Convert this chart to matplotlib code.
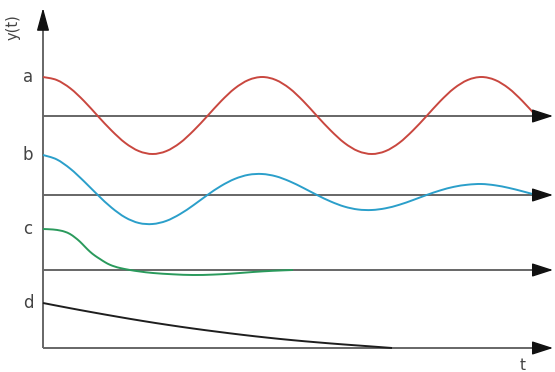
import numpy as np
import matplotlib.pyplot as plt
from matplotlib.path import Path
from matplotlib.patches import PathPatch

# time axis of the oscillating curves (px from the y axis)
t_a = [0, 13.7, 27.4, 41.1, 54.8, 68.5, 82.2, 95.9, 109.6, 123.3, 137, 150.7,
       164.4, 178.1, 191.8, 205.5, 219.2, 232.9, 246.6, 260.3, 274, 287.7,
       301.4, 315.1, 328.8, 342.5, 356.2, 369.9, 383.6, 397.3, 411, 424.7,
       438.4, 452.1, 465.8, 479.5, 493.2]
# curve a: undamped oscillation (offsets from its baseline)
y_a = [39, 36, 27.6, 14.9, 0, -14.5, -26.9, -35.1, -38, -35.1, -26.9, -14.5,
       0, 14.9, 27.6, 36, 39, 36, 27.6, 14.9, 0, -14.5, -26.9, -35.1, -38,
       -35.1, -26.9, -14.5, 0, 14.9, 27.6, 36, 39, 36, 27.6, 14.9, 0]

# curve b: damped oscillation
t_b = t_a
y_b = [40, 35.6, 26.2, 13.6, 0, -12.6, -22.4, -28, -29, -25.9, -19.1, -10,
       0, 9.1, 16.1, 20.2, 21, 18.7, 13.7, 7.1, 0, -6.5, -11.6, -14.5, -15,
       -13.3, -9.8, -5.1, 0, 4.6, 8.2, 10.3, 11, 9.7, 7.1, 3.7, 0]

# curve c: strongly damped
t_c = [0, 10, 17, 22, 27, 32, 37, 42, 47, 52, 57, 62, 67, 72, 77, 87, 97,
       110, 130, 150, 170, 190, 210, 230, 250]
y_c = [41, 40.5, 39.5, 38.2, 36, 32.5, 28.3, 23.2, 18.3, 14.3, 11, 7.8, 5.2,
       3.4, 2, 0, -1.5, -3, -4.3, -5, -4.6, -3.5, -2, -0.8, 0]

# curve d: creeping decay
t_d = [0, 25, 50, 75, 100, 125, 150, 175, 200, 225, 250, 275, 300, 325, 349]
y_d = [45, 40.2, 35.6, 31.2, 27, 23.1, 19.5, 16.2, 13.1, 10.3, 7.8, 5.6, 3.6,
       1.8, 0]

labels = ['a', 'b', 'c', 'd']
baselines = [232, 153, 78, 0]
colors = ['#c9473f', '#2b9fca', '#2a9a5c', '#1e1e1e']


def smooth_path(x, y):
    # bezier segments through the given points (catmull-rom tangents)
    p = np.column_stack([x, y]).astype(float)
    ext = np.vstack([p[0], p, p[-1]])
    verts = [p[0]]
    codes = [Path.MOVETO]
    for i in range(len(p) - 1):
        p0, p1, p2, p3 = ext[i], ext[i + 1], ext[i + 2], ext[i + 3]
        verts += [p1 + (p2 - p0) / 6, p2 - (p3 - p1) / 6, p2]
        codes += [Path.CURVE4] * 3
    return Path(verts, codes)


fig = plt.figure(figsize=(5.55, 3.72), dpi=100)
ax = fig.add_axes([0, 0, 1, 1])
ax.set_xlim(-43, 512)
ax.set_ylim(-24, 348)
ax.axis('off')

axis_col = '#666666'
tip = 510

# baselines with arrow heads
for base in baselines:
    ax.plot([0, tip - 18], [base, base], color=axis_col, lw=1.4,
            solid_capstyle='butt', zorder=1)
    ax.annotate('', xy=(tip, base), xytext=(tip - 19, base),
                arrowprops=dict(arrowstyle='-|>,head_length=1.3,head_width=0.42',
                                mutation_scale=10, color='#111111', lw=1,
                                shrinkA=0, shrinkB=0), zorder=3)

# y axis
ax.plot([0, 0], [0, 322], color=axis_col, lw=1.4, solid_capstyle='butt', zorder=1)
ax.annotate('', xy=(0, 340), xytext=(0, 320),
            arrowprops=dict(arrowstyle='-|>,head_length=1.4,head_width=0.38',
                            mutation_scale=10, color='#111111', lw=1,
                            shrinkA=0, shrinkB=0), zorder=3)

curves = [(t_a, y_a), (t_b, y_b), (t_c, y_c), (t_d, y_d)]
for (t, y), base, col, lab in zip(curves, baselines, colors, labels):
    path = smooth_path(t, np.array(y) + base)
    ax.add_patch(PathPatch(path, facecolor='none', edgecolor=col, lw=1.4,
                           zorder=2))
    ax.text(-15, base + y[0], lab, ha='center', va='center', fontsize=12,
            color='#444444')

ax.text(-30, 321, 'y(t)', rotation=90, ha='center', va='center',
        fontsize=10.5, color='#444444')
ax.text(480, -17, 't', ha='center', va='center', fontsize=11, color='#444444')

fig.savefig('out.png', dpi=100)
